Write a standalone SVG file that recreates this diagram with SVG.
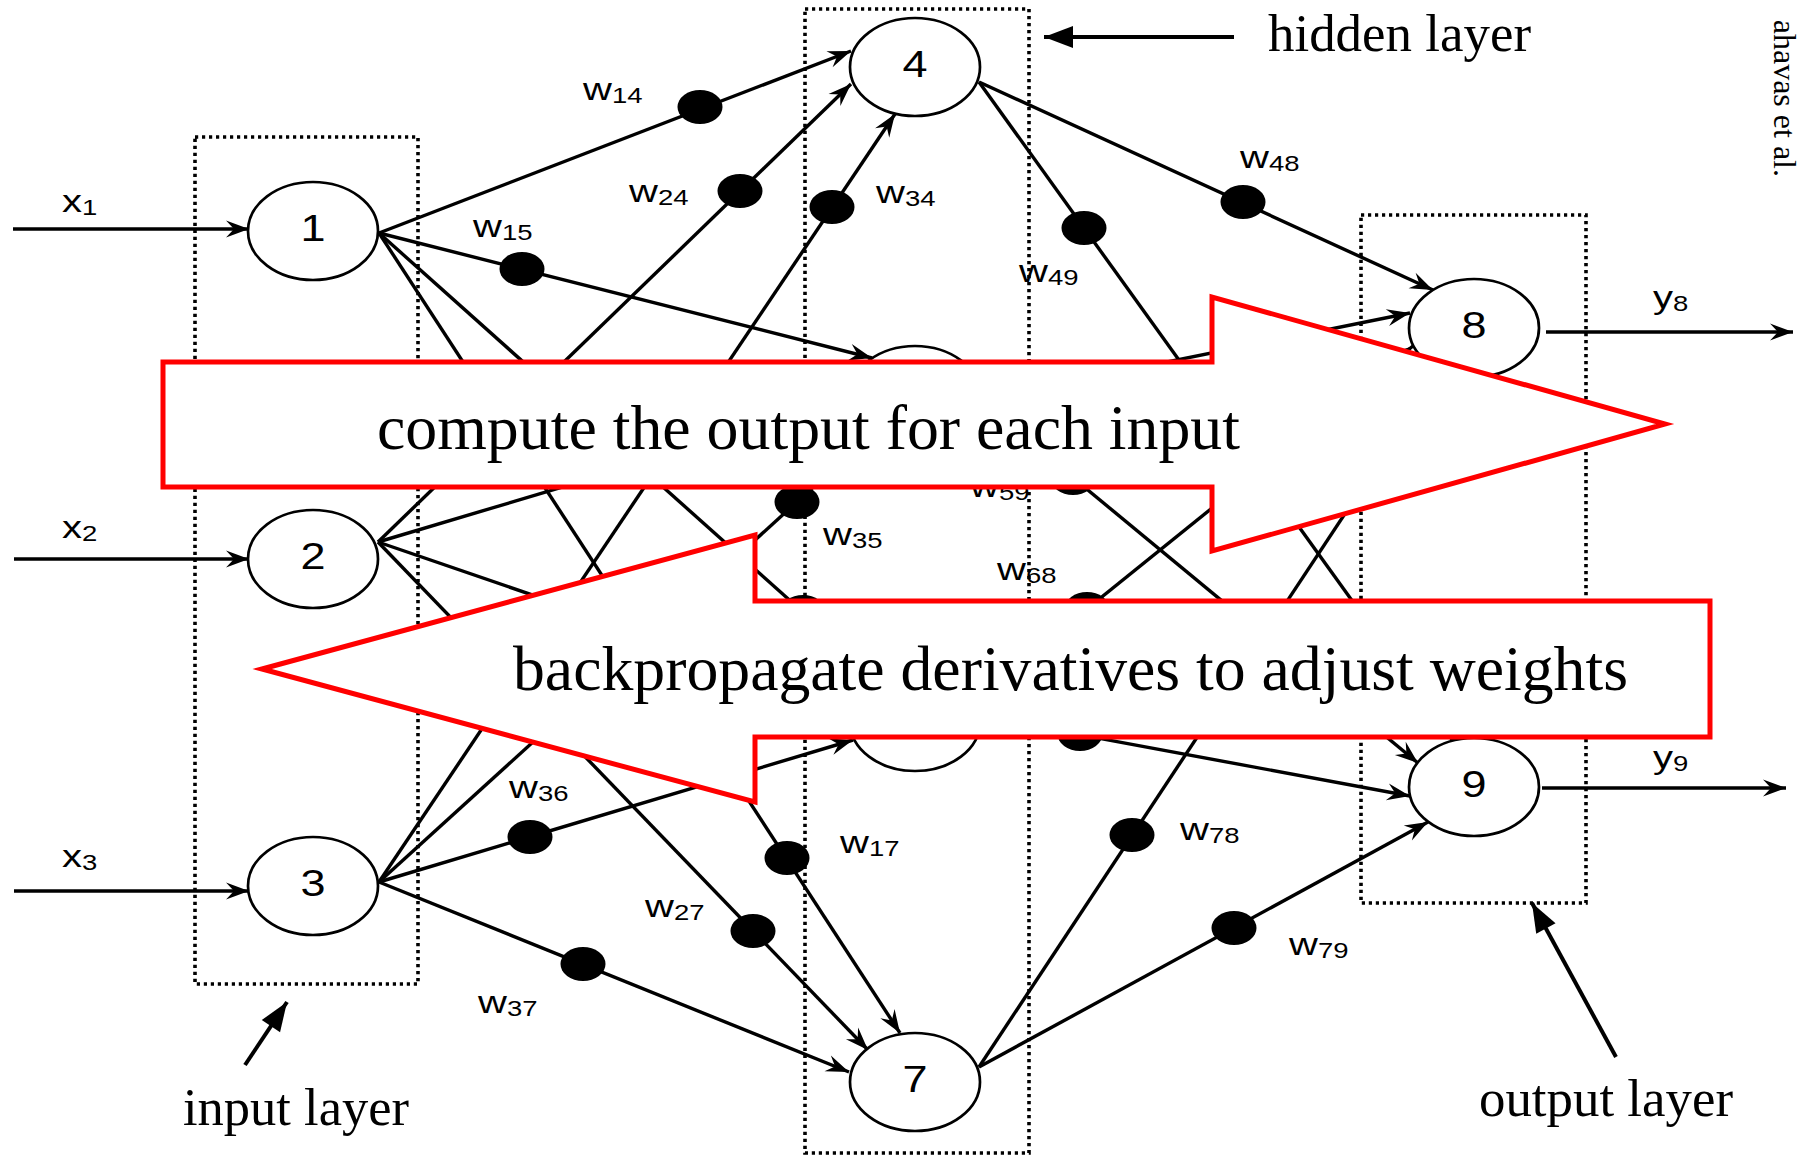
<svg xmlns="http://www.w3.org/2000/svg" width="1800" height="1155" viewBox="0 0 1800 1155">
<style>
.ln{stroke:#000;stroke-width:3.4;fill:none}
.ar{marker-end:url(#ah)}
.node ellipse{fill:#fff;stroke:#000;stroke-width:2.7}
.nt{font-family:"Liberation Sans",Arial,sans-serif;font-size:36px;text-anchor:middle;fill:#000}
.dot{fill:#000}
.box{fill:none;stroke:#000;stroke-width:3.6;stroke-dasharray:3.2 3.8}
.wl{font-family:"Liberation Sans",Arial,sans-serif;font-size:32px;fill:#000}
.sub{font-size:22px}
.big{font-family:"Liberation Serif","Times New Roman",serif;font-size:64px;fill:#000}
.lay{font-family:"Liberation Serif","Times New Roman",serif;font-size:53px;fill:#000}
.red{fill:#fff;stroke:#ff0000;stroke-width:5;stroke-linejoin:miter}
.pt{stroke:#000;stroke-width:4;fill:none;marker-end:url(#tri)}
</style>
<defs>
<marker id="ah" markerUnits="userSpaceOnUse" markerWidth="30" markerHeight="24" viewBox="-26 -12 30 24" refX="0" refY="0" orient="auto">
<path d="M0,0 L-23,-8.5 L-15,0 L-23,8.5 Z" fill="#000"/>
</marker>
<marker id="tri" markerUnits="userSpaceOnUse" markerWidth="36" markerHeight="28" viewBox="-32 -14 36 28" refX="0" refY="0" orient="auto">
<path d="M0,0 L-29,-11 L-29,11 Z" fill="#000"/>
</marker>
</defs>
<rect width="1800" height="1155" fill="#fff"/>

<g id="layer-boxes">
<rect class="box" x="195" y="137" width="223" height="847"/>
<rect class="box" x="805" y="9" width="224" height="1144"/>
<rect class="box" x="1361" y="215" width="225" height="688"/>
</g>

<g id="connectors">
<line class="ln ar" x1="13" y1="229" x2="249" y2="229"/>
<line class="ln ar" x1="14" y1="559" x2="249" y2="559"/>
<line class="ln ar" x1="14" y1="891" x2="249" y2="891"/>
<line class="ln ar" x1="379" y1="233" x2="851" y2="51"/>
<line class="ln ar" x1="379" y1="233" x2="872" y2="358"/>
<line class="ln ar" x1="379" y1="233" x2="880" y2="681"/>
<line class="ln ar" x1="379" y1="233" x2="900" y2="1033"/>
<line class="ln ar" x1="378" y1="542" x2="851" y2="84"/>
<line class="ln ar" x1="378" y1="542" x2="851" y2="401"/>
<line class="ln ar" x1="378" y1="542" x2="853" y2="705"/>
<line class="ln ar" x1="378" y1="542" x2="868" y2="1050"/>
<line class="ln ar" x1="379" y1="882" x2="895" y2="114"/>
<line class="ln ar" x1="379" y1="882" x2="876" y2="430"/>
<line class="ln ar" x1="379" y1="882" x2="853" y2="740"/>
<line class="ln ar" x1="379" y1="882" x2="849" y2="1072"/>
<line class="ln ar" x1="979" y1="82" x2="1433" y2="290"/>
<line class="ln ar" x1="979" y1="82" x2="1453" y2="741"/>
<line class="ln ar" x1="979" y1="400" x2="1410" y2="313"/>
<line class="ln ar" x1="979" y1="400" x2="1418" y2="763"/>
<line class="ln ar" x1="979" y1="696" x2="1413" y2="346"/>
<line class="ln ar" x1="979" y1="716" x2="1410" y2="796"/>
<line class="ln ar" x1="979" y1="1067" x2="1440" y2="370"/>
<line class="ln ar" x1="979" y1="1067" x2="1428" y2="822"/>
<line class="ln ar" x1="1546" y1="332" x2="1793" y2="332"/>
<line class="ln ar" x1="1542" y1="788" x2="1786" y2="788"/>
</g>

<g id="weights">
<ellipse class="dot" cx="700" cy="107" rx="22.5" ry="17"/>
<ellipse class="dot" cx="740" cy="191" rx="22.5" ry="17"/>
<ellipse class="dot" cx="832" cy="207" rx="22.5" ry="17"/>
<ellipse class="dot" cx="522" cy="269" rx="22.5" ry="17"/>
<ellipse class="dot" cx="1084" cy="228" rx="22.5" ry="17"/>
<ellipse class="dot" cx="1243" cy="202" rx="22.5" ry="17"/>
<ellipse class="dot" cx="797" cy="502" rx="22.5" ry="17"/>
<ellipse class="dot" cx="1073" cy="478" rx="22.5" ry="17"/>
<ellipse class="dot" cx="1087" cy="609" rx="22.5" ry="17"/>
<ellipse class="dot" cx="803" cy="612" rx="22.5" ry="17"/>
<ellipse class="dot" cx="1080" cy="734" rx="22.5" ry="17"/>
<ellipse class="dot" cx="530" cy="837" rx="22.5" ry="17"/>
<ellipse class="dot" cx="583" cy="964" rx="22.5" ry="17"/>
<ellipse class="dot" cx="753" cy="931" rx="22.5" ry="17"/>
<ellipse class="dot" cx="787" cy="858" rx="22.5" ry="17"/>
<ellipse class="dot" cx="1132" cy="835" rx="22.5" ry="17"/>
<ellipse class="dot" cx="1234" cy="928" rx="22.5" ry="17"/>
</g>

<g id="node1" class="node"><ellipse cx="313" cy="231" rx="65" ry="49"/><text class="nt" transform="translate(313,241) scale(1.25,1)">1</text></g>
<g id="node2" class="node"><ellipse cx="313" cy="559" rx="65" ry="49"/><text class="nt" transform="translate(313,569) scale(1.25,1)">2</text></g>
<g id="node3" class="node"><ellipse cx="313" cy="886" rx="65" ry="49"/><text class="nt" transform="translate(313,896) scale(1.25,1)">3</text></g>
<g id="node4" class="node"><ellipse cx="915" cy="67" rx="65" ry="49"/><text class="nt" transform="translate(915,77) scale(1.25,1)">4</text></g>
<g id="node5" class="node"><ellipse cx="915" cy="395" rx="65" ry="49"/></g>
<g id="node6" class="node"><ellipse cx="915" cy="722" rx="65" ry="49"/></g>
<g id="node7" class="node"><ellipse cx="915" cy="1082" rx="65" ry="49"/><text class="nt" transform="translate(915,1092) scale(1.25,1)">7</text></g>
<g id="node8" class="node"><ellipse cx="1474" cy="328" rx="65" ry="49"/><text class="nt" transform="translate(1474,338) scale(1.25,1)">8</text></g>
<g id="node9" class="node"><ellipse cx="1474" cy="787" rx="65" ry="49"/><text class="nt" transform="translate(1474,797) scale(1.25,1)">9</text></g>

<g id="labels">
<text class="wl" transform="translate(62,212) scale(1.25,1)">x<tspan class="sub" dy="3">1</tspan></text>
<text class="wl" transform="translate(62,538) scale(1.25,1)">x<tspan class="sub" dy="3">2</tspan></text>
<text class="wl" transform="translate(62,867) scale(1.25,1)">x<tspan class="sub" dy="3">3</tspan></text>
<text class="wl" transform="translate(1653,308) scale(1.25,1)">y<tspan class="sub" dy="3">8</tspan></text>
<text class="wl" transform="translate(1653,768) scale(1.25,1)">y<tspan class="sub" dy="3">9</tspan></text>
<text class="wl" transform="translate(583,100) scale(1.25,1)">w<tspan class="sub" dy="3">14</tspan></text>
<text class="wl" transform="translate(629,202) scale(1.25,1)">w<tspan class="sub" dy="3">24</tspan></text>
<text class="wl" transform="translate(876,203) scale(1.25,1)">w<tspan class="sub" dy="3">34</tspan></text>
<text class="wl" transform="translate(473,237) scale(1.25,1)">w<tspan class="sub" dy="3">15</tspan></text>
<text class="wl" transform="translate(1019,282) scale(1.25,1)">w<tspan class="sub" dy="3">49</tspan></text>
<text class="wl" transform="translate(1240,168) scale(1.25,1)">w<tspan class="sub" dy="3">48</tspan></text>
<text class="wl" transform="translate(823,545) scale(1.25,1)">w<tspan class="sub" dy="3">35</tspan></text>
<text class="wl" transform="translate(970,497) scale(1.25,1)">w<tspan class="sub" dy="3">59</tspan></text>
<text class="wl" transform="translate(997,580) scale(1.25,1)">w<tspan class="sub" dy="3">68</tspan></text>
<text class="wl" transform="translate(509,798) scale(1.25,1)">w<tspan class="sub" dy="3">36</tspan></text>
<text class="wl" transform="translate(478,1013) scale(1.25,1)">w<tspan class="sub" dy="3">37</tspan></text>
<text class="wl" transform="translate(645,917) scale(1.25,1)">w<tspan class="sub" dy="3">27</tspan></text>
<text class="wl" transform="translate(840,853) scale(1.25,1)">w<tspan class="sub" dy="3">17</tspan></text>
<text class="wl" transform="translate(1180,840) scale(1.25,1)">w<tspan class="sub" dy="3">78</tspan></text>
<text class="wl" transform="translate(1289,955) scale(1.25,1)">w<tspan class="sub" dy="3">79</tspan></text>
</g>

<g id="forward-arrow">
<polygon class="red" points="163,362 1212,362 1212,297 1665,424 1212,551 1212,487 163,487"/>
<text class="big" x="377" y="449" textLength="863" lengthAdjust="spacingAndGlyphs">compute the output for each input</text>
</g>
<g id="backward-arrow">
<polygon class="red" points="262,669 755,535 755,601 1710,601 1710,737 755,737 755,802"/>
<text class="big" x="513" y="690" textLength="1115" lengthAdjust="spacingAndGlyphs">backpropagate derivatives to adjust weights</text>
</g>

<g id="layer-labels">
<line class="pt" x1="1234" y1="37" x2="1044" y2="37"/>
<text class="lay" x="1268" y="51" textLength="263" lengthAdjust="spacingAndGlyphs">hidden layer</text>
<line class="pt" x1="245" y1="1065" x2="287" y2="1002"/>
<text class="lay" x="183" y="1125" textLength="226" lengthAdjust="spacingAndGlyphs">input layer</text>
<line class="pt" x1="1616" y1="1057" x2="1532" y2="903"/>
<text class="lay" x="1479" y="1116" textLength="254" lengthAdjust="spacingAndGlyphs">output layer</text>
<text class="lay" style="font-size:32px" text-anchor="end" transform="translate(1774,177) rotate(90)">ahavas et al.</text>
</g>
</svg>
